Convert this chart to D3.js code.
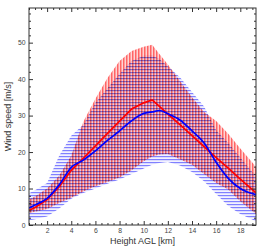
<!DOCTYPE html>
<html>
<head>
<meta charset="utf-8">
<script src="https://cdn.jsdelivr.net/npm/d3@7"></script>
<style>
body { margin: 0; background: #fff; }
svg { display: block; font-family: "Liberation Sans", Arial, sans-serif; }
</style>
</head>
<body>
<svg id="canvas"></svg>
<script>
// height levels (km) and wind speed values (m/s)
var heights   = [0.5, 1, 2, 3, 4, 5, 6, 7, 8, 9, 10, 10.7, 11.3, 12, 13, 14, 15, 16, 17, 18, 19.3];
var redMean   = [4.0, 4.8, 7.0, 10.5, 15.0, 18.3, 21.7, 25.1, 28.5, 31.8, 33.5, 34.3, 32.5, 30.4, 27.5, 24.5, 21.5, 18.5, 15.6, 12.6, 8.8];
var blueMean  = [4.7, 5.5, 7.3, 11.0, 15.8, 17.8, 20.3, 23.2, 25.8, 28.6, 30.6, 31.0, 31.4, 30.5, 28.8, 25.8, 22.5, 17.2, 12.8, 10.0, 8.3];
var redUpper  = [7.0, 7.8, 10.0, 13.5, 19.0, 28.3, 34.6, 40.3, 45.0, 47.7, 48.9, 49.4, 46.9, 44.0, 39.5, 35.0, 31.0, 28.5, 25.0, 21.0, 16.0];
var redLower  = [3.3, 3.6, 4.4, 6.0, 7.5, 9.2, 10.6, 11.8, 13.0, 15.0, 17.5, 18.8, 19.3, 19.5, 18.0, 16.5, 14.0, 11.5, 9.7, 6.5, 3.0];
var blueUpper = [8.7, 9.5, 11.5, 19.0, 24.5, 27.5, 33.5, 37.5, 41.5, 45.0, 46.4, 46.5, 45.5, 43.5, 40.5, 36.5, 32.5, 26.0, 22.5, 18.5, 13.3];
var blueLower = [1.3, 1.6, 2.3, 4.5, 7.2, 8.8, 10.0, 11.3, 12.5, 14.0, 15.5, 16.5, 17.0, 17.3, 16.3, 14.5, 12.0, 8.5, 5.2, 3.0, 1.0];

var xMajor = [2, 4, 6, 8, 10, 12, 14, 16, 18];
var yMajor = [0, 10, 20, 30, 40, 50];

var W = 263, H = 250;
var margin = {top: 8, right: 7, bottom: 25, left: 29};
var pBottom = H - margin.bottom, pTop = margin.top, pLeft = margin.left, pRight = W - margin.right;

var svg = d3.select("#canvas").attr("width", W).attr("height", H);

var x = d3.scaleLinear().domain([0.5, 19.3]).range([pLeft, pRight]);
var y = d3.scaleLinear().domain([0, 59.5]).range([pBottom, pTop]);

// hatching patterns
var defs = svg.append("defs");
var pr = defs.append("pattern").attr("id", "hatchRed")
  .attr("patternUnits", "userSpaceOnUse").attr("width", 3).attr("height", 3);
pr.append("rect").attr("width", 3).attr("height", 3).attr("fill", "#ffd4d4");
pr.append("rect").attr("width", 1.5).attr("height", 3).attr("fill", "#ff6464");

var pb = defs.append("pattern").attr("id", "hatchBlue")
  .attr("patternUnits", "userSpaceOnUse").attr("width", 3).attr("height", 3);
pb.append("rect").attr("width", 3).attr("height", 3).attr("fill", "#f2f2ff");
pb.append("rect").attr("width", 3).attr("height", 1.2).attr("fill", "#8080ff");

defs.append("clipPath").attr("id", "plotClip").append("rect")
  .attr("x", pLeft).attr("y", pTop)
  .attr("width", pRight - pLeft)
  .attr("height", pBottom - pTop);

var plot = svg.append("g").attr("clip-path", "url(#plotClip)").style("isolation", "isolate");

function band(lo, hi) {
  return d3.area()
    .x(function(d, i) { return x(heights[i]); })
    .y0(function(d, i) { return y(lo[i]); })
    .y1(function(d, i) { return y(hi[i]); })(heights);
}

plot.append("path").attr("d", band(blueLower, blueUpper))
  .attr("fill", "url(#hatchBlue)");
plot.append("path").attr("d", band(redLower, redUpper))
  .attr("fill", "url(#hatchRed)")
  .style("mix-blend-mode", "multiply");

plot.append("path").attr("d", d3.line()
    .x(function(d, i) { return x(heights[i]); })
    .y(function(d, i) { return y(redMean[i]); })(heights))
  .attr("fill", "none").attr("stroke", "#ff0000").attr("stroke-width", 1.7);
plot.append("path").attr("d", d3.line()
    .x(function(d, i) { return x(heights[i]); })
    .y(function(d, i) { return y(blueMean[i]); })
    .curve(d3.curveMonotoneX)(heights))
  .attr("fill", "none").attr("stroke", "#0000ff").attr("stroke-width", 1.7);

// axes with inward ticks
var xMinor = d3.range(0.5, 19.31, 0.5).filter(function(v) { return v % 2 !== 0; });
var yMinor = d3.range(0, 59, 2).filter(function(v) { return v % 10 !== 0; });

function styleAxis(g) {
  g.select(".domain").remove();
  g.selectAll("line").attr("stroke", "#333");
  g.selectAll("text").attr("fill", "#444").style("font-size", "6.8px");
}

svg.append("g").attr("transform", "translate(0," + pBottom + ")")
  .call(d3.axisBottom(x).tickValues(xMajor).tickSize(-4).tickPadding(3.5).tickFormat(d3.format("d")))
  .call(styleAxis);
svg.append("g").attr("transform", "translate(0," + pBottom + ")")
  .call(d3.axisBottom(x).tickValues(xMinor).tickSize(-2).tickFormat(""))
  .call(styleAxis);
svg.append("g").attr("transform", "translate(0," + pTop + ")")
  .call(d3.axisTop(x).tickValues(xMajor).tickSize(-4).tickFormat(""))
  .call(styleAxis);
svg.append("g").attr("transform", "translate(0," + pTop + ")")
  .call(d3.axisTop(x).tickValues(xMinor).tickSize(-2).tickFormat(""))
  .call(styleAxis);

svg.append("g").attr("transform", "translate(" + pLeft + ",0)")
  .call(d3.axisLeft(y).tickValues(yMajor).tickSize(-4).tickPadding(3.5).tickFormat(d3.format("d")))
  .call(styleAxis);
svg.append("g").attr("transform", "translate(" + pLeft + ",0)")
  .call(d3.axisLeft(y).tickValues(yMinor).tickSize(-2).tickFormat(""))
  .call(styleAxis);
svg.append("g").attr("transform", "translate(" + pRight + ",0)")
  .call(d3.axisRight(y).tickValues(yMajor).tickSize(-4).tickFormat(""))
  .call(styleAxis);
svg.append("g").attr("transform", "translate(" + pRight + ",0)")
  .call(d3.axisRight(y).tickValues(yMinor).tickSize(-2).tickFormat(""))
  .call(styleAxis);

// frame
svg.append("rect")
  .attr("x", pLeft).attr("y", pTop)
  .attr("width", pRight - pLeft).attr("height", pBottom - pTop)
  .attr("fill", "none").attr("stroke", "#333").attr("stroke-width", 1);

// axis titles
svg.append("text")
  .attr("x", (pLeft + pRight) / 2).attr("y", 243.5)
  .attr("text-anchor", "middle")
  .style("font-size", "9px").attr("fill", "#333")
  .text("Height AGL [km]");

svg.append("text")
  .attr("transform", "translate(11," + ((pTop + pBottom) / 2) + ") rotate(-90)")
  .attr("text-anchor", "middle")
  .style("font-size", "9px").attr("fill", "#333")
  .text("Wind speed [m/s]");
</script>
</body>
</html>
